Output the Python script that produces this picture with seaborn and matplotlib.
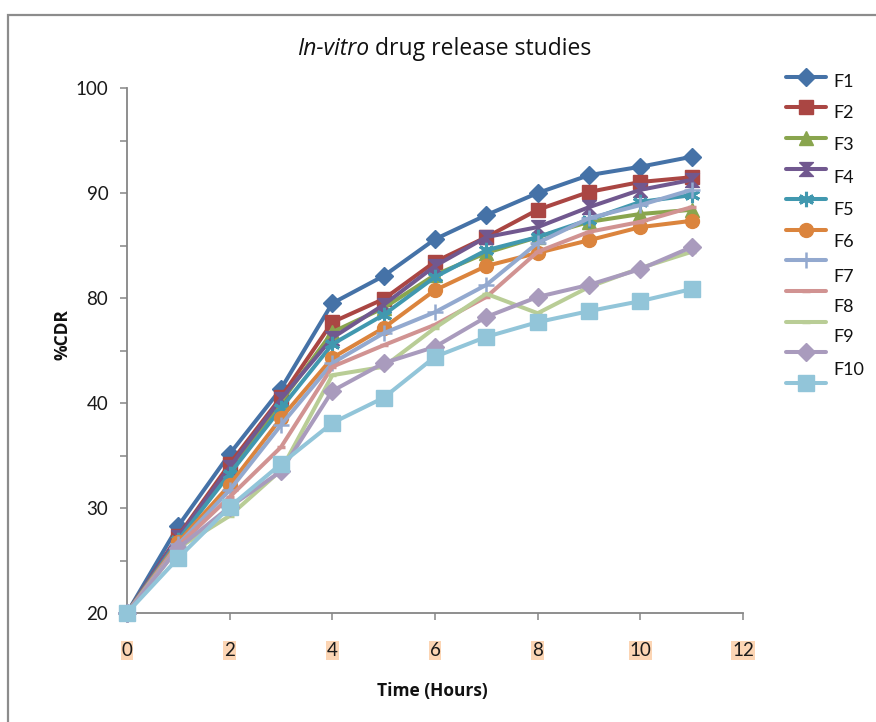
import matplotlib
matplotlib.use("Agg")
import matplotlib.pyplot as plt
import seaborn as sns
import pandas as pd
from matplotlib.lines import Line2D
from matplotlib.patches import Rectangle

# ---------------- data (axis units 0-100) ----------------
time_h = [0, 1, 2, 3, 4, 5, 6, 7, 8, 9, 10, 11]
F1 = [0, 16.6, 30.3, 42.7, 59.0, 64.2, 71.2, 75.8, 80.0, 83.4, 85.0, 86.9]
F2 = [0, 14.7, 28.4, 41.1, 55.4, 59.8, 66.9, 71.6, 76.8, 80.2, 82.1, 83.0]
F3 = [0, 14.1, 27.0, 40.2, 53.5, 58.1, 64.4, 68.6, 71.6, 74.5, 76.0, 76.8]
F4 = [0, 14.5, 27.8, 40.8, 52.4, 58.7, 66.1, 71.6, 73.5, 77.3, 80.6, 82.5]
F5 = [0, 13.9, 26.5, 39.0, 51.2, 56.8, 64.0, 69.1, 71.6, 74.9, 78.3, 79.6]
F6 = [0, 13.5, 24.4, 37.1, 48.6, 54.3, 61.5, 66.1, 68.6, 71.0, 73.5, 74.7]
F7 = [0, 13.1, 23.4, 35.8, 47.6, 53.3, 57.3, 62.5, 70.5, 75.2, 77.7, 80.6]
F8 = [0, 12.8, 22.1, 31.6, 46.9, 51.0, 54.9, 60.2, 68.8, 72.6, 74.5, 77.3]
F9 = [0, 12.4, 18.5, 27.2, 45.3, 46.9, 54.3, 60.8, 57.1, 62.1, 65.7, 68.8]
F10 = [0, 12.4, 20.2, 27.0, 42.3, 47.6, 50.7, 56.4, 60.2, 62.5, 65.5, 69.7]
F11 = [0, 10.5, 20.2, 28.4, 36.2, 41.0, 48.8, 52.6, 55.4, 57.5, 59.4, 61.7]

series_values = [F1, F2, F3, F4, F5, F6, F7, F8, F9, F10, F11]
series_ids = ["S1", "S2", "S3", "S4", "S5", "S6", "S7", "S8", "S9", "S10", "S11"]
legend_labels = ["F1", "F2", "F3", "F4", "F5", "F6", "F7", "F8", "F9", "F10"]

y_tick_values = [0, 10, 20, 30, 40, 50, 60, 70, 80, 90, 100]
y_tick_labels = ["20", "", "30", "", "40", "", "80", "", "90", "", "100"]
x_tick_values = [0, 2, 4, 6, 8, 10, 12]
x_tick_labels = ["0", "2", "4", "6", "8", "10", "12"]

title_italic = "In-vitro"
title_rest = " drug release studies"
x_title = "Time (Hours)"
y_title = "%CDR"

# ---------------- styles ----------------
colors = ["#4572A7", "#AA4643", "#89A54E", "#71588F", "#4198AF", "#DB843D",
          "#93A9CF", "#D19392", "#B9CD96", "#A99BBD", "#92C5D9"]
hourglass = [(-1, 1), (1, 1), (-1, -1), (1, -1), (-1, 1)]
markers = ["D", "s", "^", hourglass, (6, 2, 0), "o", "+", "_", "_", "D", "s"]
msizes = [9, 10, 10, 10, 11, 10, 12, 6, 6, 9, 11]
mews = [1, 1, 1, 1, 2.2, 1, 1.8, 2.5, 2.5, 1, 1]

sns.set_theme(style="white")
plt.rcParams["font.family"] = ["Lato", "DejaVu Sans"]
HEAD_FONT = ["Open Sans", "DejaVu Sans"]

fig = plt.figure(figsize=(8.76, 7.22), dpi=100)
W, H = 876, 722
ax = fig.add_axes([127 / W, 1 - 613 / H, 616 / W, 525 / H])

df = pd.DataFrame({"time": time_h * len(series_ids),
                   "value": sum(series_values, []),
                   "series": sum([[s] * len(time_h) for s in series_ids], [])})

handles = []
for i, sid in enumerate(series_ids):
    sub = df[df["series"] == sid]
    sns.lineplot(data=sub, x="time", y="value", ax=ax, color=colors[i],
                 linewidth=2.9, marker=markers[i], markersize=msizes[i],
                 markeredgewidth=mews[i], markeredgecolor=colors[i],
                 markerfacecolor=colors[i], clip_on=False, zorder=3 + i)
    handles.append(Line2D([0], [0], color=colors[i], linewidth=2.9,
                          marker=markers[i], markersize=msizes[i],
                          markeredgewidth=mews[i], markeredgecolor=colors[i],
                          markerfacecolor=colors[i]))

ax.set_xlim(0, 12)
ax.set_ylim(0, 100)
ax.set_xticks(x_tick_values)
ax.set_xticklabels(x_tick_labels)
ax.set_yticks(y_tick_values)
ax.set_yticklabels(y_tick_labels)
ax.set_xlabel("")
ax.set_ylabel("")

for s in ["top", "right"]:
    ax.spines[s].set_visible(False)
for s in ["left", "bottom"]:
    ax.spines[s].set_color("#868686")
    ax.spines[s].set_linewidth(1.3)

ax.tick_params(axis="y", direction="out", length=5, width=1.1, color="#868686",
               pad=8.5, labelsize=13.5, labelcolor="#1a1a1a", left=True)
ax.tick_params(axis="x", direction="out", length=5, width=1.1, color="#868686",
               pad=16, labelsize=13.5, labelcolor="#1a1a1a", bottom=True)
for lab in ax.get_xticklabels():
    lab.set_bbox(dict(facecolor="#FCD5B4", edgecolor="none", pad=0.6))

fig.text(432 / W, 1 - 691 / H, x_title, ha="center", va="center",
         fontsize=12.5, fontweight="bold", color="#111111", family=HEAD_FONT)
fig.text(62 / W, 1 - 335 / H, y_title, ha="center", va="center", rotation=90,
         fontsize=12.5, fontweight="bold", color="#111111", family=HEAD_FONT)

# title with italic part
t1 = fig.text(297 / W, 1 - 55 / H, title_italic, ha="left", va="baseline",
              fontsize=16.5, style="italic", color="#111111", family=HEAD_FONT)
ann = matplotlib.text.Annotation(title_rest, xy=(1, 0), xycoords=t1,
                                 ha="left", va="bottom", fontsize=16.5,
                                 color="#111111", family=HEAD_FONT)
fig.add_artist(ann)

# legend: handles from the library, labels positioned as in the picture
leg = fig.legend(handles, [""] * len(handles), loc="upper left",
                 bbox_to_anchor=(786 / W, 1 - 70 / H), frameon=False,
                 handlelength=2.2, handletextpad=0.2, fontsize=13,
                 labelspacing=0.81, borderaxespad=0, borderpad=0)
label_y = [81.7, 113.3, 145, 178.3, 210, 241.7, 276.7, 306.7, 336.7, 370]
for lab, yy in zip(legend_labels, label_y):
    fig.text(833 / W, 1 - yy / H, lab, ha="left", va="center", fontsize=13,
             color="#111111")

# chart-area frame (only top/left visible in the picture)
fig.add_artist(Rectangle((8 / W, -0.05), 1.2, 1 - 15 / H + 0.05,
                         transform=fig.transFigure, fill=False,
                         edgecolor="#8C8C8C", linewidth=1.6))

fig.savefig("out.png", dpi=100)
